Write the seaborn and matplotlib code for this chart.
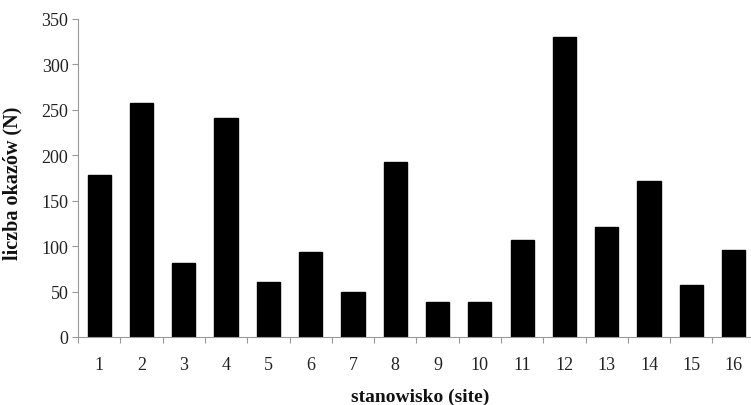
import numpy as np
import pandas as pd
import matplotlib
matplotlib.use("Agg")
import matplotlib.pyplot as plt
import seaborn as sns

sites = [str(i) for i in range(1, 17)]
counts = [178, 258, 81, 241, 60, 94, 49, 193, 38, 38, 107, 330, 121, 172, 57, 96]
yticks = [0, 50, 100, 150, 200, 250, 300, 350]

sns.set_theme(style="white")
plt.rcParams['font.family'] = ['Liberation Serif', 'DejaVu Serif']

df = pd.DataFrame({"site": sites, "count": counts})

fig = plt.figure(figsize=(7.51, 4.06), dpi=100)
ax = fig.add_axes([0.104, 0.1675, 0.901, 0.7835])

sns.barplot(data=df, x="site", y="count", order=sites, color="black",
            width=0.55, saturation=1, edgecolor="black", ax=ax)

ax.set_xlim(-0.5, 15.5)
ax.set_ylim(0, 350)
ax.set_yticks(yticks)
ax.set_yticklabels([str(v) for v in yticks], fontsize=13)
ax.set_xticks(range(16))
ax.set_xticklabels(sites, fontsize=13)
ax.set_xticks(np.arange(-0.5, 16, 1), minor=True)

ax.tick_params(axis="x", which="major", length=0, pad=14, colors="#222222")
ax.tick_params(axis="x", which="minor", length=4, width=0.8, color="#999999", direction="out", bottom=True)
ax.tick_params(axis="y", which="major", length=4, width=0.8, color="#999999", direction="out", left=True, pad=3, labelcolor="#222222")

for s in ["top", "right"]:
    ax.spines[s].set_visible(False)
for s in ["left", "bottom"]:
    ax.spines[s].set_color("#999999")
    ax.spines[s].set_linewidth(0.8)

ax.set_xlabel("stanowisko (site)", fontsize=14, fontweight="bold", color="#111111")
ax.set_ylabel("liczba okazów (N)", fontsize=14.5, fontweight="bold", color="#111111")
ax.xaxis.set_label_coords(0.506, -0.16)
ax.yaxis.set_label_coords(-0.082, 0.487)

fig.savefig("out.png", dpi=100, facecolor="white")
